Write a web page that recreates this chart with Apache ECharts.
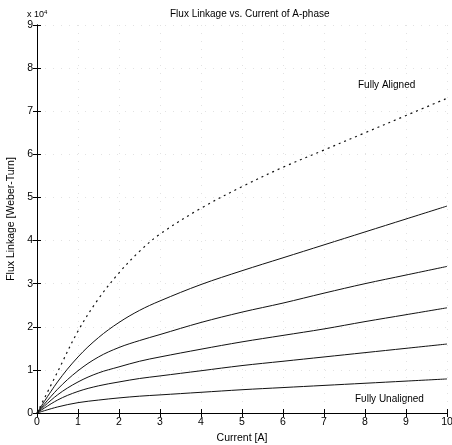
<!DOCTYPE html>
<html>
<head>
<meta charset="utf-8">
<script src="https://cdn.jsdelivr.net/npm/echarts@6/dist/echarts.min.js"></script>
<style>
html, body { margin: 0; padding: 0; background: #fff; }
#chart { width: 452px; height: 445px; }
</style>
</head>
<body>
<div id="chart"></div>
<script>
// current [A]
var current = [0, 0.5, 1, 1.5, 2, 2.5, 3, 4, 5, 6, 7, 8, 9, 10]
// flux linkage, units of 1e4 weber-turn, from aligned down to unaligned
var fluxAligned = [0, 0.95, 1.9, 2.65, 3.25, 3.75, 4.15, 4.75, 5.25, 5.7, 6.1, 6.5, 6.9, 7.3]
var flux2 = [0, 0.72, 1.3, 1.75, 2.1, 2.38, 2.6, 2.98, 3.3, 3.6, 3.9, 4.2, 4.5, 4.8]
var flux3 = [0, 0.55, 0.98, 1.3, 1.52, 1.68, 1.82, 2.1, 2.34, 2.55, 2.78, 3.0, 3.2, 3.4]
var flux4 = [0, 0.42, 0.72, 0.93, 1.07, 1.2, 1.3, 1.48, 1.65, 1.8, 1.95, 2.12, 2.28, 2.44]
var flux5 = [0, 0.3, 0.5, 0.63, 0.72, 0.8, 0.86, 0.98, 1.1, 1.2, 1.3, 1.4, 1.5, 1.6]
var fluxUnaligned = [0, 0.14, 0.24, 0.3, 0.35, 0.39, 0.42, 0.48, 0.54, 0.59, 0.64, 0.69, 0.74, 0.79]

function pairs(ys) {
    return current.map(function (x, i) { return [x, ys[i]] })
}

var font = 'Liberation Sans, Arial, sans-serif'
var chart = echarts.init(document.getElementById('chart'))

function curve(name, ys, dotted) {
    return {
        name: name,
        type: 'line',
        data: pairs(ys),
        smooth: 0.35,
        showSymbol: false,
        lineStyle: {
            color: '#111',
            width: dotted ? 1.2 : 1,
            type: dotted ? [2, 4] : 'solid'
        },
        xAxisIndex: 0,
        yAxisIndex: 0,
        silent: true
    }
}

var boxAxis = {
    type: 'value',
    min: 0,
    axisLine: { show: true, lineStyle: { color: '#000', width: 1 } },
    axisTick: { show: true, inside: true, length: 4, lineStyle: { color: '#000' } },
    splitLine: { show: false },
    axisLabel: { show: false }
}

chart.setOption({
    animation: false,
    backgroundColor: '#fff',
    title: {
        text: 'Flux Linkage vs. Current of A-phase',
        left: 165,
        top: 4,
        textStyle: { fontFamily: font, fontSize: 10, fontWeight: 'normal', color: '#000' }
    },
    grid: { left: 37, right: 5, top: 25, bottom: 32, outerBoundsMode: 'none', containLabel: false },
    xAxis: [
        {
            type: 'value',
            min: 0,
            max: 10,
            interval: 1,
            name: 'Current [A]',
            nameLocation: 'middle',
            nameGap: 18,
            nameTextStyle: { fontFamily: font, fontSize: 10.5, color: '#000' },
            axisLine: { show: true, lineStyle: { color: '#000', width: 1 } },
            axisTick: { show: true, inside: true, length: 4, lineStyle: { color: '#000' } },
            axisLabel: { fontFamily: font, fontSize: 10.5, color: '#000', margin: 4 },
            splitLine: { show: true, lineStyle: { color: '#e2e2e2', type: [1, 7] } }
        },
        Object.assign({}, boxAxis, { max: 10, interval: 1, position: 'top' })
    ],
    yAxis: [
        {
            type: 'value',
            min: 0,
            max: 9,
            interval: 1,
            name: 'Flux Linkage [Weber-Turn]',
            nameLocation: 'middle',
            nameGap: 19,
            nameTextStyle: { fontFamily: font, fontSize: 10.5, color: '#000' },
            axisLine: { show: true, lineStyle: { color: '#000', width: 1 } },
            axisTick: { show: true, inside: true, length: 4, lineStyle: { color: '#000' } },
            axisLabel: { fontFamily: font, fontSize: 10.5, color: '#000', margin: 4 },
            splitLine: { show: true, lineStyle: { color: '#e2e2e2', type: [1, 7] } }
        },
        Object.assign({}, boxAxis, { max: 9, interval: 1, position: 'right' })
    ],
    graphic: [
        {
            type: 'text',
            left: 27,
            top: 9,
            style: {
                text: 'x 10{s|4}',
                rich: { s: { fontSize: 6, verticalAlign: 'top', padding: [0, 0, 6, 0] } },
                fontFamily: font,
                fontSize: 9,
                fill: '#000'
            }
        },
        {
            type: 'text',
            left: 358,
            top: 80,
            style: { text: 'Fully Aligned', fontFamily: font, fontSize: 10, fill: '#000' }
        },
        {
            type: 'text',
            left: 355,
            top: 394,
            style: { text: 'Fully Unaligned', fontFamily: font, fontSize: 10, fill: '#000' }
        }
    ],
    series: [
        curve('Fully Aligned', fluxAligned, true),
        curve('flux2', flux2, false),
        curve('flux3', flux3, false),
        curve('flux4', flux4, false),
        curve('flux5', flux5, false),
        curve('Fully Unaligned', fluxUnaligned, false)
    ]
})
</script>
</body>
</html>
